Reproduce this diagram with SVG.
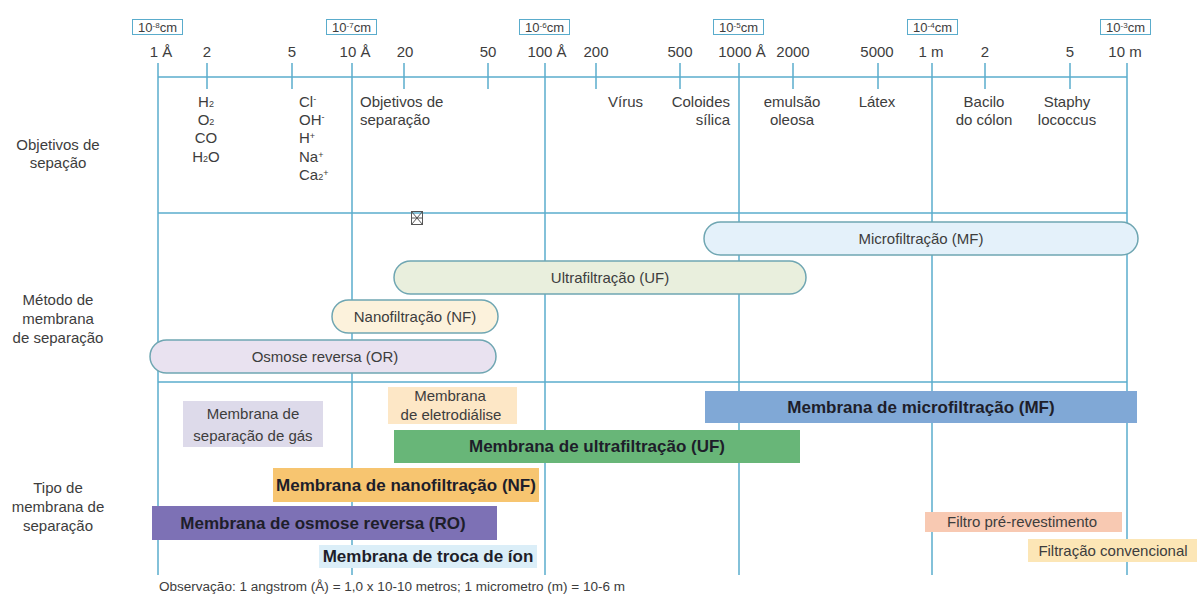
<svg xmlns="http://www.w3.org/2000/svg" width="1197" height="596" viewBox="0 0 1197 596">
<style>
text{font-family:"Liberation Sans",Arial,sans-serif;fill:#3d3d3d}
.sc{font-size:15px;text-anchor:middle}
.lb{font-size:15px}
.mid{text-anchor:middle}
.end{text-anchor:end}
.sub{font-size:9px}
.bx{fill:#fff;stroke:#5aaccc;stroke-width:1}
.bxt{font-size:13px;text-anchor:middle}
.bxt .sub{font-size:8px}
.grid line{stroke:#5aaccc;stroke-width:1.5}
.pill{stroke:#6fa6b2;stroke-width:1.5}
.bold{font-size:17px;font-weight:bold;text-anchor:middle;fill:#1e1e2a}
.tp{font-size:15px;text-anchor:middle}
.note{font-size:12.5px}
</style>

<g id="connectors" class="grid">
  <line x1="158" y1="63" x2="158" y2="575"/>
  <line x1="352" y1="63" x2="352" y2="575"/>
  <line x1="545" y1="63" x2="545" y2="575"/>
  <line x1="739" y1="63" x2="739" y2="575"/>
  <line x1="932" y1="63" x2="932" y2="575"/>
  <line x1="1127" y1="63" x2="1127" y2="575"/>
  <line x1="158" y1="77" x2="1127" y2="77"/>
  <line x1="158" y1="213" x2="1127" y2="213"/>
  <line x1="158" y1="382" x2="1127" y2="382"/>
  <line x1="207" y1="63" x2="207" y2="89"/>
  <line x1="292" y1="63" x2="292" y2="89"/>
  <line x1="404" y1="63" x2="404" y2="89"/>
  <line x1="488" y1="63" x2="488" y2="89"/>
  <line x1="596" y1="63" x2="596" y2="89"/>
  <line x1="680" y1="63" x2="680" y2="89"/>
  <line x1="793" y1="63" x2="793" y2="89"/>
  <line x1="878" y1="63" x2="878" y2="89"/>
  <line x1="985" y1="63" x2="985" y2="89"/>
  <line x1="1070" y1="63" x2="1070" y2="89"/>
</g>

<g id="scale-cm">
  <rect class="bx" x="132.5" y="19.5" width="50" height="15"/>
  <text class="bxt" x="157.5" y="31.5">10<tspan class="sub" dy="-4">-8</tspan><tspan dy="4">cm</tspan></text>
  <rect class="bx" x="326.5" y="19.5" width="50" height="15"/>
  <text class="bxt" x="351.5" y="31.5">10<tspan class="sub" dy="-4">-7</tspan><tspan dy="4">cm</tspan></text>
  <rect class="bx" x="519.5" y="19.5" width="50" height="15"/>
  <text class="bxt" x="544.5" y="31.5">10<tspan class="sub" dy="-4">-6</tspan><tspan dy="4">cm</tspan></text>
  <rect class="bx" x="713.5" y="19.5" width="50" height="15"/>
  <text class="bxt" x="738.5" y="31.5">10<tspan class="sub" dy="-4">-5</tspan><tspan dy="4">cm</tspan></text>
  <rect class="bx" x="907.5" y="19.5" width="50" height="15"/>
  <text class="bxt" x="932.5" y="31.5">10<tspan class="sub" dy="-4">-4</tspan><tspan dy="4">cm</tspan></text>
  <rect class="bx" x="1100.5" y="19.5" width="50" height="15"/>
  <text class="bxt" x="1125.5" y="31.5">10<tspan class="sub" dy="-4">-3</tspan><tspan dy="4">cm</tspan></text>
</g>

<g id="scale-numbers">
  <text class="sc" x="161" y="57">1 Å</text>
  <text class="sc" x="207" y="57">2</text>
  <text class="sc" x="292" y="57">5</text>
  <text class="sc" x="355" y="57">10 Å</text>
  <text class="sc" x="405" y="57">20</text>
  <text class="sc" x="488" y="57">50</text>
  <text class="sc" x="547" y="57">100 Å</text>
  <text class="sc" x="596" y="57">200</text>
  <text class="sc" x="680" y="57">500</text>
  <text class="sc" x="742" y="57">1000 Å</text>
  <text class="sc" x="793" y="57">2000</text>
  <text class="sc" x="877" y="57">5000</text>
  <text class="sc" x="931" y="57">1 m</text>
  <text class="sc" x="985" y="57">2</text>
  <text class="sc" x="1070" y="57">5</text>
  <text class="sc" x="1125" y="57">10 m</text>
</g>

<g id="row-labels">
  <text class="tp" x="58" y="150">Objetivos de</text>
  <text class="tp" x="58" y="168">sepação</text>
  <text class="tp" x="58" y="305">Método de</text>
  <text class="tp" x="58" y="324">membrana</text>
  <text class="tp" x="58" y="343">de separação</text>
  <text class="tp" x="58" y="493">Tipo de</text>
  <text class="tp" x="58" y="512">membrana de</text>
  <text class="tp" x="58" y="531">separação</text>
</g>

<g id="targets">
  <text class="lb mid" x="206" y="107">H<tspan class="sub">2</tspan></text>
  <text class="lb mid" x="206" y="125">O<tspan class="sub">2</tspan></text>
  <text class="lb mid" x="206" y="143">CO</text>
  <text class="lb mid" x="206" y="162">H<tspan class="sub">2</tspan>O</text>
  <text class="lb" x="299" y="107">Cl<tspan class="sub" dy="-5">-</tspan></text>
  <text class="lb" x="299" y="125">OH<tspan class="sub" dy="-5">-</tspan></text>
  <text class="lb" x="299" y="143">H<tspan class="sub" dy="-4">+</tspan></text>
  <text class="lb" x="299" y="162">Na<tspan class="sub" dy="-4">+</tspan></text>
  <text class="lb" x="299" y="180">Ca<tspan class="sub">2</tspan><tspan class="sub" dy="-4">+</tspan></text>
  <text class="lb" x="360" y="107">Objetivos de</text>
  <text class="lb" x="360" y="125">separação</text>
  <text class="lb" x="608" y="107">Vírus</text>
  <text class="lb end" x="730" y="107">Coloides</text>
  <text class="lb end" x="730" y="125">sílica</text>
  <text class="lb mid" x="792" y="107">emulsão</text>
  <text class="lb mid" x="792" y="125">oleosa</text>
  <text class="lb mid" x="877" y="107">Látex</text>
  <text class="lb mid" x="984" y="107">Bacilo</text>
  <text class="lb mid" x="984" y="125">do cólon</text>
  <text class="lb mid" x="1067" y="107">Staphy</text>
  <text class="lb mid" x="1067" y="125">lococcus</text>
</g>

<g id="missing-symbol" fill="none" stroke="#555" stroke-width="1">
  <rect x="411.5" y="211.5" width="11" height="13"/>
  <line x1="411.5" y1="211.5" x2="422.5" y2="224.5"/>
  <line x1="422.5" y1="211.5" x2="411.5" y2="224.5"/>
  <line x1="411.5" y1="218" x2="422.5" y2="218"/>
</g>

<g id="method-mf">
  <rect class="pill" x="704" y="222" width="434" height="33" rx="16.5" fill="#e4f1fa"/>
  <text class="lb mid" x="921" y="244">Microfiltração (MF)</text>
</g>
<g id="method-uf">
  <rect class="pill" x="394" y="261" width="412" height="33" rx="16.5" fill="#e9efdd"/>
  <text class="lb mid" x="610" y="283">Ultrafiltração (UF)</text>
</g>
<g id="method-nf">
  <rect class="pill" x="332" y="300" width="166" height="33" rx="16.5" fill="#fcf2dc"/>
  <text class="lb mid" x="415" y="322">Nanofiltração (NF)</text>
</g>
<g id="method-or">
  <rect class="pill" x="150" y="340" width="346" height="33" rx="16.5" fill="#e9e2f0"/>
  <text class="lb mid" x="325" y="362">Osmose reversa (OR)</text>
</g>

<g id="type-gas">
  <rect x="183" y="401" width="140" height="46" fill="#dddaea"/>
  <text class="lb mid" x="253" y="419">Membrana de</text>
  <text class="lb mid" x="253" y="441">separação de gás</text>
</g>
<g id="type-ed">
  <rect x="388" y="387" width="129" height="37" fill="#fde7c6"/>
  <text class="lb mid" x="450" y="401">Membrana</text>
  <text class="lb mid" x="451" y="420">de eletrodiálise</text>
</g>
<g id="type-mf">
  <rect x="705" y="391" width="432" height="32" fill="#80a8d6"/>
  <text class="bold" x="921" y="413">Membrana de microfiltração (MF)</text>
</g>
<g id="type-uf">
  <rect x="394" y="430" width="406" height="33" fill="#68b678"/>
  <text class="bold" x="597" y="452">Membrana de ultrafiltração (UF)</text>
</g>
<g id="type-nf">
  <rect x="273" y="468" width="266" height="34" fill="#f7c570"/>
  <text class="bold" x="406" y="491">Membrana de nanofiltração (NF)</text>
</g>
<g id="type-ro">
  <rect x="152" y="506" width="345" height="34" fill="#7d71b5"/>
  <text class="bold" x="323" y="529">Membrana de osmose reversa (RO)</text>
</g>
<g id="type-ion">
  <rect x="319" y="545" width="218" height="23" fill="#dbeef8"/>
  <text class="bold" x="428" y="562">Membrana de troca de íon</text>
</g>
<g id="type-precoat">
  <rect x="925" y="512" width="197" height="20" fill="#f8c9b2"/>
  <text class="lb mid" x="1022" y="527">Filtro pré-revestimento</text>
</g>
<g id="type-conv">
  <rect x="1028" y="539" width="169" height="23" fill="#fce6b6"/>
  <text class="lb mid" x="1113" y="556">Filtração convencional</text>
</g>

<text class="note" x="159" y="591" textLength="466" lengthAdjust="spacingAndGlyphs">Observação: 1 angstrom (Å) = 1,0 x 10-10 metros; 1 micrometro (m) = 10-6 m</text>
</svg>
